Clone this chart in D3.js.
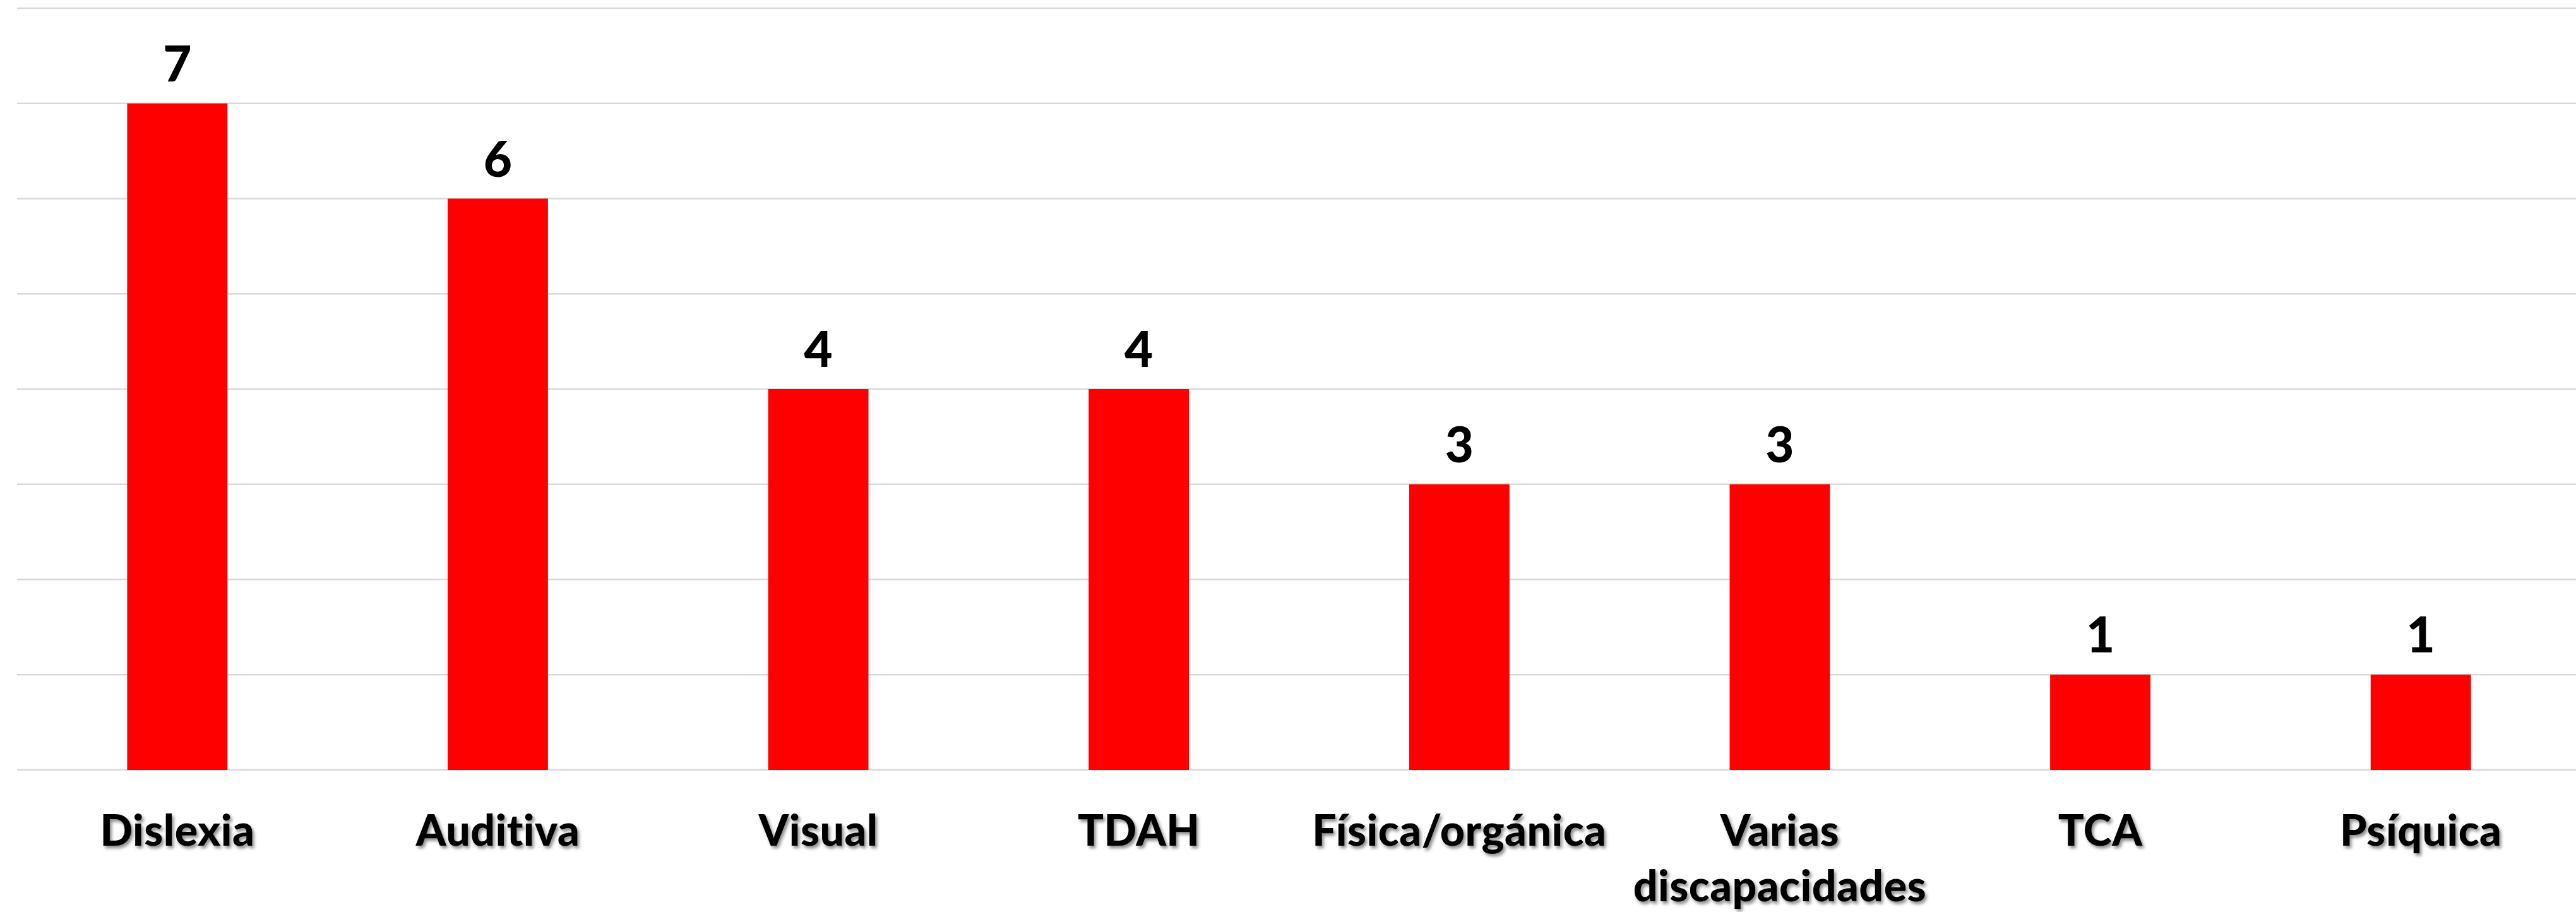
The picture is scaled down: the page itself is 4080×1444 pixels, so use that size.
<!DOCTYPE html>
<html>
<head>
<meta charset="utf-8">
<script src="https://cdn.jsdelivr.net/npm/d3@7"></script>
<style>
html,body{margin:0;padding:0;background:#fff;overflow:hidden;}
svg{display:block;}
</style>
</head>
<body>
<svg id="chart" width="4080" height="1444"></svg>
<script>
const categories = ["Dislexia","Auditiva","Visual","TDAH","Física/orgánica","Varias discapacidades","TCA","Psíquica"];
const categoryLines = [["Dislexia"],["Auditiva"],["Visual"],["TDAH"],["Física/orgánica"],["Varias","discapacidades"],["TCA"],["Psíquica"]];
const values = [7,6,4,4,3,3,1,1];
const gridTicks = [0,1,2,3,4,5,6,7,8];

const W = 4080, H = 1444;
const svg = d3.select("#chart");
const plot = {left: 27, right: 4088, top: 13, bottom: 1219};

const x = d3.scaleBand().domain(categories).range([plot.left, plot.right]).paddingInner(0.687).paddingOuter(0.3435);
const y = d3.scaleLinear().domain([0,8]).range([plot.bottom, plot.top]);

const defs = svg.append("defs");
const f = defs.append("filter").attr("id","shadow").attr("x","-10%").attr("y","-20%").attr("width","130%").attr("height","160%");
f.append("feDropShadow").attr("dx",3).attr("dy",4).attr("stdDeviation",2.5).attr("flood-color","#000").attr("flood-opacity",0.45);

// gridlines
svg.append("g").selectAll("line").data(gridTicks).join("line")
  .attr("x1", plot.left).attr("x2", W)
  .attr("y1", d => y(d)).attr("y2", d => y(d))
  .attr("stroke", "#d9d9d9").attr("stroke-width", 2.6);

// bars
svg.append("g").selectAll("rect").data(values).join("rect")
  .attr("x", (d,i) => x(categories[i]))
  .attr("y", d => y(d))
  .attr("width", x.bandwidth())
  .attr("height", d => y(0) - y(d))
  .attr("fill", "#ff0000");

// value labels
svg.append("g").selectAll("text").data(values).join("text")
  .attr("x", (d,i) => x(categories[i]) + x.bandwidth()/2)
  .attr("y", d => y(d) - 35)
  .attr("text-anchor", "middle")
  .attr("font-family", "Lato, sans-serif")
  .attr("font-weight", 900)
  .attr("font-size", 78)
  .attr("fill", "#000")
  .text(d => d);

// category labels
const cl = svg.append("g").attr("filter","url(#shadow)").selectAll("text").data(categoryLines).join("text")
  .attr("text-anchor", "middle")
  .attr("font-family", "Lato, sans-serif")
  .attr("font-weight", 900)
  .attr("font-size", 68)
  .attr("letter-spacing", 0.5)
  .attr("fill", "#000");
cl.each(function(lines, i){
  const t = d3.select(this);
  const cx = x(categories[i]) + x.bandwidth()/2;
  lines.forEach((ln, j) => {
    t.append("tspan").attr("x", cx).attr("y", 1339 + j*88).text(ln);
  });
});
</script>
</body>
</html>
